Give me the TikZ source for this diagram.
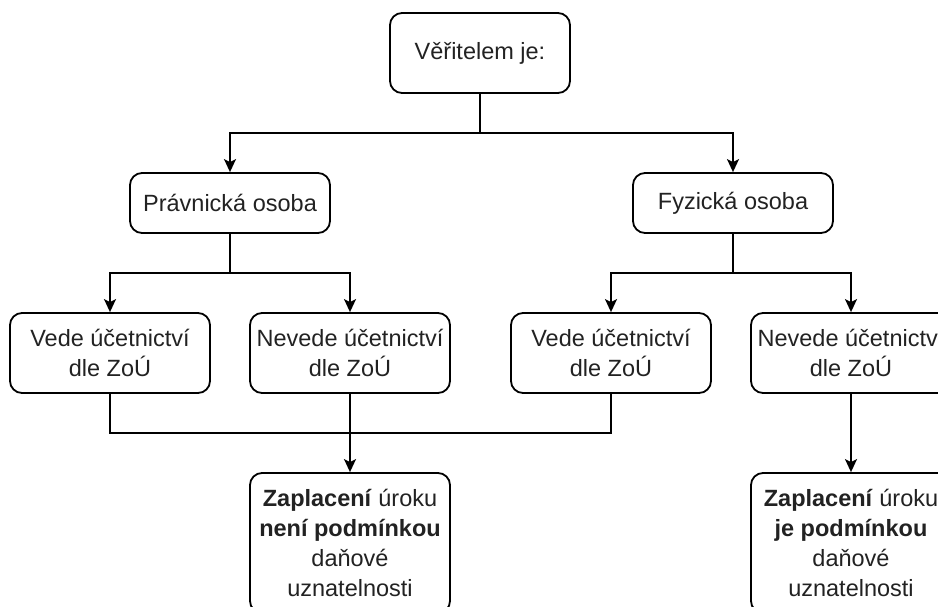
\documentclass[tikz,border=0pt]{standalone}
\usepackage{fontspec}
\setmainfont{Liberation Sans}
\usetikzlibrary{arrows.meta}
\definecolor{txt}{HTML}{222222}
\begin{document}
\begin{tikzpicture}[x=1pt,y=-1pt,
  box/.style={draw=black,line width=1.8pt,rounded corners=12pt,fill=white,
    minimum width=#1,align=center,inner sep=0pt,text=txt,
    font=\fontsize{23.5}{30}\selectfont},
  box/.default={200pt},
  conn/.style={line width=1.8pt,draw=black},
  arr/.style={conn,-{Stealth[length=13pt,width=12pt,inset=3pt]}}]
\useasboundingbox (0,0) rectangle (938,606);
\clip (0,0) rectangle (938,606);
\node[box=180pt,minimum height=80pt] (root) at (480,53) {Věřitelem je:};
\node[box,minimum height=60pt] (pravn) at (230,203) {Právnická osoba};
\node[box,minimum height=60pt] (fyz) at (733,203) {Fyzická osoba};
\node[box,minimum height=80pt] (pv) at (110,353) {Vede účetnictví\\dle ZoÚ};
\node[box,minimum height=80pt] (pn) at (350,353) {Nevede účetnictví\\dle ZoÚ};
\node[box,minimum height=80pt] (fv) at (611,353) {Vede účetnictví\\dle ZoÚ};
\node[box,minimum height=80pt] (fn) at (851,353) {Nevede účetnictví\\dle ZoÚ};
\node[box,minimum height=140pt] (r1) at (350,543) {\textbf{Zaplacení} úroku\\\textbf{není podmínkou}\\daňové\\uznatelnosti};
\node[box,minimum height=140pt] (r2) at (851,543) {\textbf{Zaplacení} úroku\\\textbf{je podmínkou}\\daňové\\uznatelnosti};
\coordinate (j1) at (480,133);
\coordinate (j2) at (230,273);
\coordinate (j3) at (733,273);
\coordinate (j4) at (350,433);
\draw[conn] (root.south) -- (j1);
\draw[arr] (j1) -| (pravn.north);
\draw[arr] (j1) -| (fyz.north);
\draw[conn] (pravn.south) -- (j2);
\draw[arr] (j2) -| (pv.north);
\draw[arr] (j2) -| (pn.north);
\draw[conn] (fyz.south) -- (j3);
\draw[arr] (j3) -| (fv.north);
\draw[arr] (j3) -| (fn.north);
\draw[conn] (pv.south) |- (j4);
\draw[conn] (fv.south) |- (j4);
\draw[arr] (pn.south) -- (r1.north);
\draw[arr] (fn.south) -- (r2.north);
\end{tikzpicture}
\end{document}
